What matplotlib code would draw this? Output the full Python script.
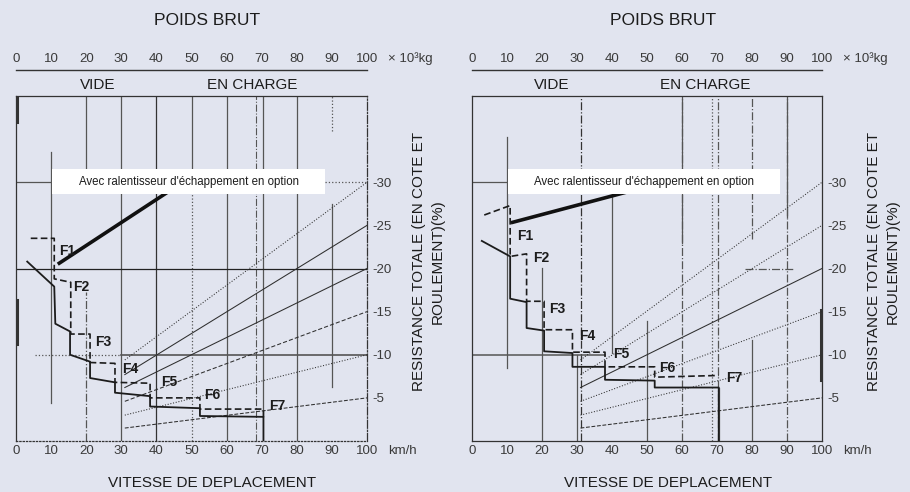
import matplotlib
matplotlib.use("Agg")
import matplotlib.pyplot as plt
from matplotlib.patches import Rectangle

plt.rcParams["font.family"] = ["Liberation Sans", "DejaVu Sans"]

BG = "#e1e4ef"
INK = "#1c1c1c"
GREY = "#555555"
TICK_GREY = "#3a3a3a"

# axis scales (speed km/h bottom, gross weight x10^3 kg top, resistance % right)
SPEED_TICKS = [0, 10, 20, 30, 40, 50, 60, 70, 80, 90, 100]
WEIGHT_TICKS = [0, 10, 20, 30, 40, 50, 60, 70, 80, 90, 100]
GRADE_TICKS = [5, 10, 15, 20, 25, 30]
GRADE_LABELS = ["-5", "-10", "-15", "-20", "-25", "-30"]

# grade (weight) lines: value at 31 km/h start, value at 100 on the right edge
GRADE_START_X = 31
GRADE_START = [1.5, 3.0, 4.6, 6.2, 7.7, 9.4]
GRADE_END = [5, 10, 15, 20, 25, 30]

GEARS = ["F1", "F2", "F3", "F4", "F5", "F6", "F7"]

# left chart
LEFT_SOLID_X = [3.2, 10.9, 11.2, 15.4, 15.4, 21.1, 21.1, 28.2, 28.2, 38.2, 38.2, 52.4, 52.4, 70.5, 70.5]
LEFT_SOLID_Y = [20.8, 17.9, 13.6, 12.7, 10.0, 9.2, 7.3, 6.8, 5.6, 5.2, 4.0, 3.8, 2.9, 2.8, 0.0]
LEFT_DASH_X = [4.2, 10.9, 10.9, 15.6, 15.6, 21.1, 21.1, 28.2, 28.2, 38.2, 38.2, 52.4, 52.4, 70.5, 70.5]
LEFT_DASH_Y = [23.5, 23.5, 18.8, 18.4, 12.4, 12.4, 9.1, 9.0, 6.8, 6.7, 5.0, 5.0, 3.7, 3.7, 2.8]
LEFT_RETARDER_X = [11.9, 52.0]
LEFT_RETARDER_Y = [20.5, 31.2]
LEFT_GEAR_X = [14.6, 18.7, 24.9, 32.5, 43.7, 56.0, 74.3]
LEFT_GEAR_Y = [22.0, 17.8, 11.5, 8.3, 6.8, 5.3, 4.1]

# right chart
RIGHT_SOLID_X = [2.8, 10.9, 10.9, 15.6, 15.6, 20.6, 20.6, 28.7, 28.7, 38.0, 38.0, 52.2, 52.2, 70.5, 70.5]
RIGHT_SOLID_Y = [23.2, 21.4, 16.5, 16.1, 13.1, 12.8, 10.4, 10.2, 8.6, 8.6, 7.1, 7.0, 6.2, 6.2, 0.0]
RIGHT_DASH_X = [3.5, 10.9, 10.9, 15.6, 15.6, 20.6, 20.6, 28.7, 28.7, 38.0, 38.0, 52.2, 52.2, 70.5]
RIGHT_DASH_Y = [26.2, 27.3, 21.4, 21.7, 16.2, 16.2, 12.9, 12.9, 10.3, 10.3, 8.6, 8.6, 7.4, 7.6]
RIGHT_RETARDER_X = [11.1, 52.0]
RIGHT_RETARDER_Y = [25.3, 29.7]
RIGHT_GEAR_X = [15.2, 19.7, 24.4, 33.0, 42.5, 55.7, 75.0]
RIGHT_GEAR_Y = [23.8, 21.2, 15.3, 12.2, 10.1, 8.5, 7.3]

NOTE = "Avec ralentisseur d'échappement en option"


def vline(ax, x, y0, y1, style="-", color=GREY, lw=0.9):
    ax.plot([x, x], [y0, y1], linestyle=style, color=color, lw=lw, zorder=1)


def hline(ax, y, x0, x1, style="-", color=GREY, lw=0.9):
    ax.plot([x0, x1], [y, y], linestyle=style, color=color, lw=lw, zorder=1)


def draw_frame(ax):
    ax.set_facecolor(BG)
    ax.set_xlim(0, 100)
    ax.set_ylim(0, 40)
    for side in ax.spines.values():
        side.set_color("#333333")
        side.set_linewidth(0.9)

    ax.set_xticks(SPEED_TICKS)
    ax.set_xticklabels([str(v) for v in SPEED_TICKS])
    ax.yaxis.tick_right()
    ax.set_yticks(GRADE_TICKS)
    ax.set_yticklabels(GRADE_LABELS)
    ax.tick_params(length=0, labelsize=9.5, labelcolor=TICK_GREY)
    ax.tick_params(axis="x", pad=3)
    ax.tick_params(axis="y", pad=4)

    # top scale: gross weight
    for w in WEIGHT_TICKS:
        ax.text(w, 44.3, str(w), ha="center", va="center", fontsize=9.5,
                color=TICK_GREY, clip_on=False)
    ax.text(106, 44.3, "× 10³kg", ha="left", va="center", fontsize=9.5,
            color=TICK_GREY, clip_on=False)
    ax.plot([0, 100], [43.0, 43.0], color="#333333", lw=1.0, clip_on=False)
    ax.text(54.5, 48.7, "POIDS BRUT", ha="center", va="center", fontsize=12.5,
            color=INK, clip_on=False)

    ax.text(106, -1.2, "km/h", ha="left", va="center", fontsize=9.5,
            color=TICK_GREY, clip_on=False)
    ax.text(56, -4.9, "VITESSE DE DEPLACEMENT", ha="center", va="center",
            fontsize=11, color=INK, clip_on=False)
    ax.text(117.5, 20.8, "RESISTANCE TOTALE (EN COTE ET\nROULEMENT)(%)",
            rotation=90, ha="center", va="center", multialignment="center",
            linespacing=1.45, fontsize=11, color=INK, clip_on=False)


def draw_curves(ax, solid_x, solid_y, dash_x, dash_y, ret_x, ret_y,
                gear_x, gear_y, grade_styles):
    for g0, g1, ls in zip(GRADE_START, GRADE_END, grade_styles):
        ax.plot([GRADE_START_X, 100], [g0, g1], linestyle=ls, color="#2e2e2e",
                lw=0.75, zorder=2)

    ax.plot(solid_x, solid_y, color=INK, lw=1.3, zorder=3)
    ax.plot(dash_x, dash_y, color=INK, lw=1.2, dashes=(4, 2), zorder=3)
    ax.plot(ret_x, ret_y, color="#111111", lw=2.6, zorder=3,
            solid_capstyle="butt")

    for name, gx, gy in zip(GEARS, gear_x, gear_y):
        ax.text(gx, gy, name, ha="center", va="center", fontsize=10,
                fontweight="bold", color=INK, zorder=4)

    ax.add_patch(Rectangle((10.3, 28.6), 77.8, 2.9, facecolor="white",
                           edgecolor="none", zorder=5))
    ax.text(49.2, 30.05, NOTE, ha="center", va="center", fontsize=8.3,
            color=INK, zorder=6)


fig = plt.figure(figsize=(9.1, 4.92), dpi=100, facecolor=BG)
ax_l = fig.add_axes([16 / 910, 51 / 492, 351 / 910, 345 / 492])
ax_r = fig.add_axes([472 / 910, 51 / 492, 350 / 910, 345 / 492])

for ax in (ax_l, ax_r):
    draw_frame(ax)

# left chart frame details
ax_l.text(23.4, 41.3, "VIDE", ha="center", va="center", fontsize=11, color=INK, clip_on=False)
ax_l.text(67.2, 41.3, "EN CHARGE", ha="center", va="center", fontsize=11, color=INK, clip_on=False)
vline(ax_l, 10, 4.4, 33.5, "-")
vline(ax_l, 20, 0, 17.3, "-.")
vline(ax_l, 20, 31.5, 40, "-")
vline(ax_l, 30, 0, 40, "-")
vline(ax_l, 40, 0, 40, "-", color="#333333")
vline(ax_l, 50, 30.5, 40, "-")
vline(ax_l, 50, 0, 30.5, ":")
vline(ax_l, 60, 0, 40, "-")
vline(ax_l, 68.5, 0, 40, "-.", lw=0.8)
vline(ax_l, 70.3, 2.8, 40, "-")
vline(ax_l, 80, 0, 40, "-")
vline(ax_l, 90, 6.3, 27.5, "-")
vline(ax_l, 90, 36, 40, ":")
vline(ax_l, 0.2, 11.2, 16.4, "-", color="#333333", lw=2.2)
vline(ax_l, 0.2, 37.0, 40, "-", color="#333333", lw=2.2)
hline(ax_l, 30, 0, 10, "-")
hline(ax_l, 30, 88, 100, ":")
hline(ax_l, 20, 0, 100, "-", color="#222222")
hline(ax_l, 10, 5.4, 30, ":")
hline(ax_l, 10, 30, 100, "-", lw=1.2)
ax_l.spines["right"].set_linestyle("-.")
ax_l.spines["bottom"].set_linestyle(":")

# right chart frame details
ax_r.text(22.8, 41.3, "VIDE", ha="center", va="center", fontsize=11, color=INK, clip_on=False)
ax_r.text(66.6, 41.3, "EN CHARGE", ha="center", va="center", fontsize=11, color=INK, clip_on=False)
vline(ax_r, 10, 8.5, 35.2, "-")
vline(ax_r, 20, 0, 20.1, "-")
vline(ax_r, 29.9, 0, 10.0, "-")
vline(ax_r, 31, 0, 40, "-.", color="#333333")
vline(ax_r, 40, 10.2, 28.5, "-")
vline(ax_r, 50, 0, 13.9, "-")
vline(ax_r, 60, 0, 40, "-.")
vline(ax_r, 60, 23, 40, "-")
vline(ax_r, 68.5, 0, 40, ":")
vline(ax_r, 70.3, 0, 40, "-.")
vline(ax_r, 70.5, 0, 6.2, "-")
vline(ax_r, 80, 0, 11.7, "-")
vline(ax_r, 80, 23.4, 40, "-.")
vline(ax_r, 90, 0, 40, "-.")
vline(ax_r, 90, 26, 40, "-")
vline(ax_r, 99.8, 7.1, 15.2, "-", color="#333333", lw=2.2)
hline(ax_r, 30, 0, 10, "-")
hline(ax_r, 10, 0, 38, "-", lw=1.1)
hline(ax_r, 20, 78, 92, "-.")

draw_curves(ax_l, LEFT_SOLID_X, LEFT_SOLID_Y, LEFT_DASH_X, LEFT_DASH_Y,
            LEFT_RETARDER_X, LEFT_RETARDER_Y, LEFT_GEAR_X, LEFT_GEAR_Y,
            ["--", ":", (0, (4, 2)), "-", "-", ":"])
draw_curves(ax_r, RIGHT_SOLID_X, RIGHT_SOLID_Y, RIGHT_DASH_X, RIGHT_DASH_Y,
            RIGHT_RETARDER_X, RIGHT_RETARDER_Y, RIGHT_GEAR_X, RIGHT_GEAR_Y,
            ["--", ":", ":", "-", ":", ":"])

fig.savefig("out.png", dpi=100, facecolor=BG)
